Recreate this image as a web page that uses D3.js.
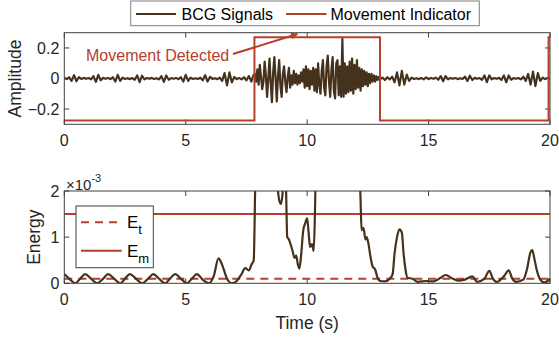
<!DOCTYPE html>
<html><head><meta charset="utf-8">
<script src="https://cdn.jsdelivr.net/npm/d3@7"></script>
<style>
html,body{margin:0;padding:0;background:#fff;}
svg{display:block;font-family:"Liberation Sans",Arial,Helvetica,sans-serif;}
</style></head>
<body><svg id="c" width="559" height="339"></svg>
<script>
// ---------------- DATA ----------------
const xTicks = [0, 5, 10, 15, 20];
const ampTicks = [-0.2, 0, 0.2];
const energyTicks = [0, 1, 2];          // ×10^-3
const legendTop = ["BCG Signals", "Movement Indicator"];
const annotationText = "Movement Detected";

// BCG quiet segment 1: t = 0 .. 7.8 s, step 0.1 s
const bcgQuiet1Start = 0, bcgQuiet1Step = 0.1;
const bcgQuiet1 = [0.003,-0.004,0.008,-0.016,0.022,-0.018,0.008,-0.003,0.004,-0.002,
  0.003,-0.006,0.016,-0.022,0.024,-0.012,0.004,-0.002,0.003,-0.004,
  0.008,-0.02,0.024,-0.016,0.006,-0.003,0.002,-0.004,0.003,-0.008,
  0.02,-0.024,0.018,-0.006,0.003,-0.002,0.004,-0.003,0.002,-0.006,
  0.016,-0.022,0.02,-0.008,0.003,-0.002,0.003,-0.004,0.008,-0.02,
  0.024,-0.016,0.006,-0.003,0.002,-0.003,0.005,-0.012,0.022,-0.02,
  0.01,-0.003,0.002,-0.004,0.006,-0.016,0.035,-0.045,0.04,-0.025,
  0.01,-0.004,0.003,-0.006,0.008,-0.012,0.016,-0.02,0.025];
// BCG movement segment: t = 7.85 .. 13.0 s, step 0.05 s
const bcgMoveStart = 7.85, bcgMoveStep = 0.05;
const bcgMove = [0.03,-0.02,0.06,-0.04, 0.09,0.01,-0.07,-0.02, 0.11,0.02,-0.12,0.0,
  0.13,-0.03,-0.155,0.04, 0.14,0.0,-0.15,0.02, 0.12,-0.05,-0.12,0.03,
  0.08,-0.02,-0.09,0.01, 0.07,-0.06,0.02,-0.04, 0.05,-0.03,0.03,-0.04,
  0.02,-0.03,0.04,-0.02, 0.06,-0.06,0.08,-0.05, 0.06,-0.07,0.05,-0.04,
  0.07,-0.08,0.06,-0.09, 0.1,-0.04,-0.1,0.05, 0.12,-0.06,-0.11,0.08,
  0.15,-0.02,-0.12,0.06, 0.14,-0.08,-0.13,0.1, 0.12,-0.11,0.08,-0.12,
  0.26,-0.12,0.1,-0.1, 0.08,-0.09,0.11,-0.08, 0.13,-0.1,0.09,-0.07,
  0.12,-0.06,0.07,-0.08, 0.06,-0.05,0.05,-0.04, 0.04,-0.05,0.03,-0.03,
  0.03,-0.02,0.02,-0.02, 0.015,-0.01,0.01,-0.005];
// BCG quiet segment 2: t = 13.1 .. 20.0 s, step 0.1 s
const bcgQuiet2Start = 13.1, bcgQuiet2Step = 0.1;
const bcgQuiet2 = [0.006,-0.01,0.008,-0.006,0.012,-0.025,0.04,-0.045,0.05,-0.04,
  0.025,-0.015,0.006,-0.003,0.002,-0.004,0.003,-0.006,0.008,-0.004,
  0.003,-0.002,0.005,-0.008,0.016,-0.018,0.016,-0.006,0.003,-0.002,
  0.003,-0.004,0.002,-0.003,0.012,-0.016,0.018,-0.01,0.004,-0.002,
  0.003,-0.008,0.02,-0.024,0.02,-0.006,0.003,-0.002,0.004,-0.01,
  0.02,-0.025,0.02,-0.008,0.003,-0.002,0.003,-0.006,0.012,-0.016,
  0.03,-0.04,0.045,-0.05,0.035,-0.016,0.006,-0.004,0.003,-0.002];

// Movement indicator (step function)
const indicatorTime  = [0, 7.83, 7.83, 13.0, 13.0, 19.94, 19.94, 20];
const indicatorValue = [-0.275, -0.275, 0.27, 0.27, -0.275, -0.275, 0.27, 0.27];

// Energy (×10^-3)
const energyTime = [0,0.2,0.45,0.65,0.86,1.1,1.35,1.6,1.8,2.05,2.3,2.5,2.7,2.95,3.2,3.45,3.67,3.9,4.15,4.35,
  4.57,4.8,5.05,5.25,5.46,5.7,5.95,6.15,6.35,6.5,6.7,6.9,7.1,7.3,7.45,7.6,7.72,7.8,7.88,8.2,
  8.7,8.85,8.92,8.98,9.05,9.12,9.18,9.25,9.32,9.4,9.48,9.55,9.62,9.68,9.75,9.84,9.92,10.0,10.06,10.12,
  10.2,10.27,10.32,10.36,11.0,12.1,12.2,12.24,12.32,12.4,12.45,12.52,12.6,12.7,12.8,12.9,13.0,13.2,13.4,13.52,
  13.6,13.7,13.8,13.9,13.97,14.05,14.13,14.34,14.55,14.9,15.2,15.5,15.7,16.0,16.2,16.5,16.8,17.0,17.3,17.5,
  17.65,17.8,18.1,18.3,18.45,18.6,18.9,19.05,19.2,19.27,19.35,19.45,19.6,19.75,19.9,20.0];
const energyValue = [0.2,0.1,0.0,0.1,0.2,0.1,0.0,0.1,0.2,0.1,0.0,0.1,0.2,0.1,0.0,0.1,0.2,0.1,0.0,0.1,
  0.2,0.1,0.0,0.1,0.2,0.08,0.0,0.15,0.54,0.4,0.1,0.0,0.05,0.2,0.33,0.28,0.42,0.5,2.5,4.0,
  2.5,1.8,1.72,1.9,2.4,2.2,1.0,0.95,0.84,0.7,0.55,0.6,0.4,0.32,0.6,1.15,1.3,1.41,1.1,0.79,
  0.85,0.7,1.5,2.5,5.0,3.0,1.8,1.15,1.2,0.95,1.0,0.87,0.6,0.36,0.3,0.12,0.05,0.04,0.1,0.2,
  0.65,1.0,1.17,1.1,0.65,0.3,0.12,0.1,0.03,0.05,0.04,0.12,0.18,0.1,0.06,0.08,0.15,0.03,0.1,0.27,
  0.1,0.03,0.15,0.28,0.1,0.03,0.08,0.3,0.68,0.72,0.55,0.3,0.08,0.02,0.05,0.1];
const energyThreshold = 0.1;   // E_t (×10^-3)
const energyMovement  = 1.5;   // E_m (×10^-3)

// ---------------- DRAW ----------------
const RED = "#b5412d", BROWN = "#45321d", AX = "#404040", TXT = "#262626";
const svg = d3.select("#c");
const X0 = 64.3, X1 = 550;
const top1 = 32.7, bot1 = 124.3, top2 = 191, bot2 = 283.3;
const x = d3.scaleLinear().domain([0, 20]).range([X0, X1]);
const yA = d3.scaleLinear().domain([-0.3, 0.3]).range([bot1, top1]);
const yE = d3.scaleLinear().domain([0, 2]).range([bot2, top2]);

const bcg = [];
bcgQuiet1.forEach((v,i)=>bcg.push([bcgQuiet1Start + i*bcgQuiet1Step, v]));
bcgMove.forEach((v,i)=>bcg.push([bcgMoveStart + i*bcgMoveStep, v]));
bcgQuiet2.forEach((v,i)=>bcg.push([bcgQuiet2Start + i*bcgQuiet2Step, v]));

const defs = svg.append("defs");
defs.append("clipPath").attr("id","clip1").append("rect")
  .attr("x",X0).attr("y",top1).attr("width",X1-X0).attr("height",bot1-top1);
defs.append("clipPath").attr("id","clip2").append("rect")
  .attr("x",X0).attr("y",top2).attr("width",X1-X0).attr("height",bot2-top2);
defs.append("marker").attr("id","arr").attr("viewBox","0 0 10 10").attr("refX",9).attr("refY",5)
  .attr("markerWidth",8).attr("markerHeight",7).attr("markerUnits","userSpaceOnUse")
  .attr("orient","auto").append("path").attr("d","M0,0 L10,5 L0,10 z").attr("fill",RED);

function drawFrame(y, top, bot, yticks, fmt) {
  const g = svg.append("g");
  xTicks.forEach(t=>{
    g.append("line").attr("x1",x(t)).attr("x2",x(t)).attr("y1",bot).attr("y2",bot-5).attr("stroke",AX);
    g.append("line").attr("x1",x(t)).attr("x2",x(t)).attr("y1",top).attr("y2",top+5).attr("stroke",AX);
    g.append("text").attr("x",x(t)).attr("y",bot+22).attr("text-anchor","middle")
      .attr("font-size",16).attr("fill",TXT).text(d3.format("d")(t));
  });
  yticks.forEach(t=>{
    g.append("line").attr("x1",X0).attr("x2",X0+5).attr("y1",y(t)).attr("y2",y(t)).attr("stroke",AX);
    g.append("line").attr("x1",X1).attr("x2",X1-5).attr("y1",y(t)).attr("y2",y(t)).attr("stroke",AX);
    g.append("text").attr("x",X0-5).attr("y",y(t)+5.7).attr("text-anchor","end")
      .attr("font-size",16).attr("fill",TXT).text(fmt(t));
  });
  return g;
}
function box(top, bot){
  svg.append("rect").attr("x",X0).attr("y",top).attr("width",X1-X0).attr("height",bot-top)
    .attr("fill","none").attr("stroke",AX).attr("stroke-width",1);
}

// ---- top axes ----
drawFrame(yA, top1, bot1, ampTicks, t => t === 0 ? "0" : d3.format(".1f")(t));
const lineA = d3.line().x(d=>x(d[0])).y(d=>yA(d[1]));
const gA = svg.append("g").attr("clip-path","url(#clip1)");
gA.append("path").datum(bcg).attr("d",lineA).attr("fill","none").attr("stroke",BROWN)
  .attr("stroke-width",2.2).attr("stroke-linejoin","round");
gA.append("path").datum(indicatorTime.map((t,i)=>[t,indicatorValue[i]])).attr("d",lineA)
  .attr("fill","none").attr("stroke",RED).attr("stroke-width",2);
box(top1, bot1);
svg.append("text").attr("transform",`translate(20.5,${(top1+bot1)/2}) rotate(-90)`)
  .attr("text-anchor","middle").attr("font-size",17.5).attr("fill",TXT).text("Amplitude");
svg.append("text").attr("x",86).attr("y",60.5).attr("font-size",16).attr("fill",RED).text(annotationText);
svg.append("line").attr("x1",233).attr("y1",54).attr("x2",x(9.6)).attr("y2",34)
  .attr("stroke",RED).attr("stroke-width",2).attr("marker-end","url(#arr)");

// top legend
const lg = svg.append("g");
lg.append("rect").attr("x",130.7).attr("y",1).attr("width",348.6).attr("height",24.7)
  .attr("fill","#fff").attr("stroke","#808080");
lg.append("line").attr("x1",136).attr("x2",176).attr("y1",14).attr("y2",14).attr("stroke",BROWN).attr("stroke-width",2);
lg.append("text").attr("x",181.5).attr("y",19.5).attr("font-size",16).attr("fill","#000").text(legendTop[0]);
lg.append("line").attr("x1",286).attr("x2",326.5).attr("y1",14).attr("y2",14).attr("stroke",RED).attr("stroke-width",2);
lg.append("text").attr("x",330.5).attr("y",19.5).attr("font-size",16).attr("fill","#000").text(legendTop[1]);

// ---- bottom axes ----
drawFrame(yE, top2, bot2, energyTicks, d3.format("d"));
const lineE = d3.line().x(d=>x(d[0])).y(d=>yE(d[1])).curve(d3.curveMonotoneX);
const gE = svg.append("g").attr("clip-path","url(#clip2)");
gE.append("line").attr("x1",x(0)).attr("x2",x(20)).attr("y1",yE(energyThreshold)).attr("y2",yE(energyThreshold))
  .attr("stroke",RED).attr("stroke-width",2).attr("stroke-dasharray","8,6");
gE.append("line").attr("x1",x(0)).attr("x2",x(20)).attr("y1",yE(energyMovement)).attr("y2",yE(energyMovement))
  .attr("stroke",RED).attr("stroke-width",2);
gE.append("path").datum(energyTime.map((t,i)=>[t,energyValue[i]])).attr("d",lineE)
  .attr("fill","none").attr("stroke",BROWN).attr("stroke-width",2.2).attr("stroke-linejoin","round");
box(top2, bot2);
svg.append("text").attr("transform",`translate(39.5,${(top2+bot2)/2}) rotate(-90)`)
  .attr("text-anchor","middle").attr("font-size",17.5).attr("fill",TXT).text("Energy");
const ex = svg.append("text").attr("x",66).attr("y",190).attr("font-size",15).attr("fill",TXT);
ex.append("tspan").text("×10");
ex.append("tspan").attr("font-size",11).attr("dy",-8).text("-3");
svg.append("text").attr("x",X0+(X1-X0)/2).attr("y",329).attr("text-anchor","middle")
  .attr("font-size",17.5).attr("fill",TXT).text("Time (s)");

// bottom legend
const lg2 = svg.append("g");
lg2.append("rect").attr("x",76).attr("y",206).attr("width",77.3).attr("height",61.7)
  .attr("fill","#fff").attr("stroke","#404040");
lg2.append("line").attr("x1",81).attr("x2",121.7).attr("y1",222.3).attr("y2",222.3)
  .attr("stroke",RED).attr("stroke-width",2).attr("stroke-dasharray","8,6");
lg2.append("line").attr("x1",81).attr("x2",121.7).attr("y1",250.7).attr("y2",250.7)
  .attr("stroke",RED).attr("stroke-width",2);
[["E","t",222.3],["E","m",250.7]].forEach(([a,b,yy])=>{
  const t = lg2.append("text").attr("x",127).attr("y",yy+6).attr("font-size",17).attr("fill","#000");
  t.append("tspan").text(a);
  t.append("tspan").attr("font-size",13).attr("dy",6).text(b);
});
</script></body></html>
